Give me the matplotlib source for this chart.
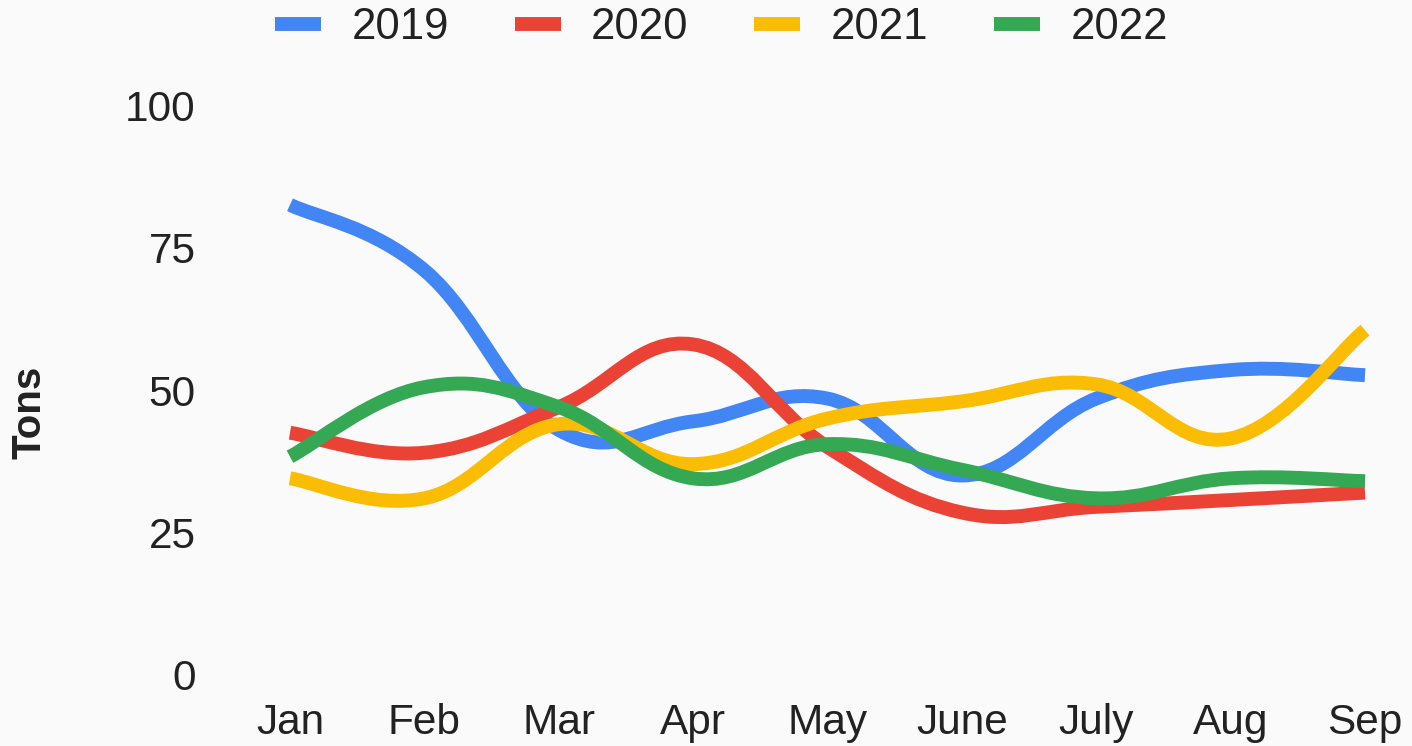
import matplotlib
matplotlib.use("Agg")
import matplotlib.pyplot as plt
from matplotlib.path import Path
from matplotlib.patches import PathPatch
from matplotlib.lines import Line2D

# data
months = ["Jan", "Feb", "Mar", "Apr", "May", "June", "July", "Aug", "Sep"]
years = ["2019", "2020", "2021", "2022"]
tons_2019 = [82.5, 71, 43, 44.5, 48.5, 35, 48.5, 53.5, 52.6]
tons_2020 = [42.5, 39, 47, 58, 40, 28.5, 29.5, 30.7, 32]
tons_2021 = [34.5, 31, 44, 37, 45, 48, 51, 41.5, 60.5]
tons_2022 = [38.3, 50.5, 47, 34.5, 40.5, 36, 31, 34.5, 34]
colors = ["#4285f4", "#ea4335", "#fbbc04", "#34a853"]

bg = "#fafafa"
plt.rcParams['font.family'] = ['Liberation Sans', 'DejaVu Sans']

#smooth curve through the points (cardinal spline as bezier path)
def smooth_path(x, y, t=0.5):
  verts=[(x[0], y[0])]; codes=[Path.MOVETO]
  n=len(x)
  for i in range(n-1):
    x0, y0 = (x[i-1], y[i-1]) if i > 0 else (x[i], y[i])
    x3, y3 = (x[i+2], y[i+2]) if i+2 < n else (x[i+1], y[i+1])
    c1=(x[i]+(x[i+1]-x0)*t/3, y[i]+(y[i+1]-y0)*t/3)
    c2=(x[i+1]-(x3-x[i])*t/3, y[i+1]-(y3-y[i])*t/3)
    verts+= [c1, c2, (x[i+1], y[i+1])]
    codes+= [Path.CURVE4]*3
  return Path(verts, codes)

fig=plt.figure(figsize=(14.12, 7.46), dpi=100, facecolor=bg)
ax=fig.add_axes([290/1412, 71/746, 1075/1412, 570/746])
ax.set_facecolor(bg)
xs=list(range(len(months)))
for vals, c in zip([tons_2019, tons_2020, tons_2021, tons_2022], colors):
  p=PathPatch(smooth_path(xs, vals, t=0.6), facecolor="none", edgecolor=c, lw=10,
              capstyle="butt", joinstyle="round", clip_on=False)
  ax.add_patch(p)

ax.set_xlim(0, len(months)-1)
ax.set_ylim(0, 100)
ax.set_yticks([0, 25, 50, 75, 100])
ax.set_xticks(xs)
ax.set_xticklabels(months)
ax.tick_params(axis="both", length=0, labelsize=30.5, colors="#222222")
ax.tick_params(axis="y", pad=68)
ax.tick_params(axis="x", pad=20)
for s in ax.spines.values():
  s.set_visible(False)
ax.set_ylabel("Tons", fontsize=29, fontweight="bold", color="#222222", va="center")
ax.yaxis.set_label_coords(-0.242, 0.46)

handles=[Line2D([], [], color=c, lw=10, solid_capstyle="butt") for c in colors]
fig.legend(handles, years, loc="upper center", bbox_to_anchor=(0.511, 1.043), ncol=4,
           frameon=False, fontsize=31.5, handlelength=1.05, handletextpad=0.7,
           columnspacing=1.5, labelcolor="#222222")

fig.savefig("out.png", dpi=100, facecolor=bg)
